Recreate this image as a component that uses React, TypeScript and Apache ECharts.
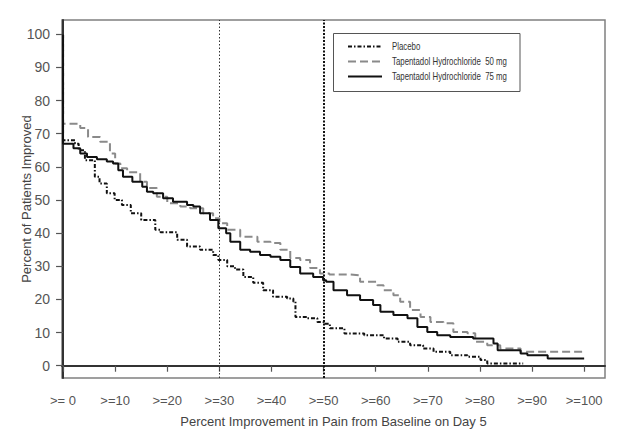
import React, { useEffect, useRef } from "react";
import * as echarts from "echarts";

const seriesNames = [
  "Placebo",
  "Tapentadol Hydrochloride  50 mg",
  "Tapentadol Hydrochloride  75 mg",
];

const placebo: [number, number][] = [
  [0, 100], [0, 68], [2.3, 67], [3.0, 65], [4.2, 62], [6.1, 57], [7.0, 55], [8.4, 52],
  [9.9, 50], [11.3, 48.5], [13.0, 46], [15.0, 44], [17.7, 41], [18.7, 40.3], [21.9, 38],
  [23.8, 36], [26.3, 35], [28.8, 33.4], [29.8, 31.9], [31.5, 30], [33.0, 29], [34.6, 26.8],
  [36.5, 25], [38.4, 22.8], [40.3, 20.8], [43.0, 20.3], [44.2, 19.3], [44.6, 14.7],
  [46.8, 14.3], [48.8, 13.2], [50.0, 12.7], [51.2, 11.3], [54.0, 9.7], [57.8, 9.2],
  [61.6, 8.2], [64.2, 7.2], [66.6, 6.2], [69.1, 5.2], [71.1, 4.2], [74.3, 3.2],
  [77.6, 2.7], [80.1, 1.7], [81.4, 0.7], [88.3, 0.7],
];

const mg50: [number, number][] = [
  [0, 100], [0, 73], [2.3, 73], [3.3, 71.7], [4.8, 69], [7.1, 67.6], [9.0, 64], [10.0, 61],
  [11.0, 59.6], [12.3, 58.4], [14.8, 55.5], [16.1, 53.6], [18.0, 51], [20.0, 49],
  [22.5, 48], [24.4, 47.5], [26.9, 46], [28.8, 44.5], [30.0, 43], [31.5, 41], [34.0, 38.9],
  [37.3, 37.4], [39.8, 37], [41.7, 35], [43.6, 32.5], [45.5, 31.9], [47.4, 29.5],
  [49.3, 27.8], [51.1, 27.5], [55.1, 27.3], [57.0, 25.3], [60.3, 24.3], [61.5, 22.8],
  [63.4, 21.3], [64.7, 19.3], [66.6, 16.8], [68.6, 14.7], [70.5, 13.2], [73.0, 12.8],
  [74.9, 10.2], [77.6, 9.8], [79.1, 7.2], [81.4, 6.2], [83.9, 5.2], [87.8, 4.2], [100, 4.2],
];

const mg75: [number, number][] = [
  [0, 100], [0, 67], [2.0, 65.6], [3.3, 64], [4.6, 63], [6.5, 62.3], [8.4, 61.6], [9.6, 61],
  [10.6, 59], [11.5, 57], [13.3, 55.5], [15.2, 54], [16.1, 52.5], [17.3, 52], [19.2, 50.5],
  [21.1, 49.5], [23.8, 48.5], [25.0, 48], [26.3, 46], [28.2, 44], [29.8, 41.5], [31.3, 40],
  [32.1, 37.4], [34.0, 35], [35.9, 34.4], [37.8, 33.4], [39.8, 32.9], [41.7, 31.9],
  [43.6, 29.8], [45.5, 27.8], [48.0, 26.8], [49.9, 25.8], [50.5, 25.3], [51.9, 22.8],
  [54.5, 21.3], [57.0, 19.8], [59.5, 18.3], [60.9, 16.3], [63.4, 15.3], [66.1, 14.3],
  [68.0, 11.7], [69.9, 10.2], [71.8, 9.2], [74.3, 8.7], [78.7, 8.2], [82.6, 6.7],
  [83.4, 4.7], [87.8, 3.7], [89.1, 3.2], [93.0, 2.2], [100, 2.2],
];

const xTicks = [0, 10, 20, 30, 40, 50, 60, 70, 80, 90, 100];
const xTickLabels = [">= 0", ">=10", ">=20", ">=30", ">=40", ">=50", ">=60", ">=70", ">=80", ">=90", ">=100"];
const yTicks = [0, 10, 20, 30, 40, 50, 60, 70, 80, 90, 100];
const referenceLines = [30, 50];

const xAxisName = "Percent Improvement in Pain from Baseline on Day 5";
const yAxisName = "Percent of Patients Improved";

const lineStyles = [
  { color: "#111111", width: 2, dash: [4, 2, 1.5, 2] as number[] | null },
  { color: "#8a8a8a", width: 2, dash: [8, 4] as number[] | null },
  { color: "#111111", width: 2, dash: null as number[] | null },
];

export default function App() {
  const ref = useRef<HTMLDivElement>(null);
  useEffect(() => {
    document.body.style.margin = "0";
    if (!ref.current) return;
    const chart = echarts.init(ref.current, null, { renderer: "svg" });
    const font = "'Liberation Sans', Arial, sans-serif";

    const legendTop = 46.5;
    const legendStep = 15;
    const legendChildren: any[] = [
      {
        type: "rect",
        shape: { x: 333.5, y: 33.5, width: 186.5, height: 58 },
        style: { fill: "#ffffff", stroke: "#555555", lineWidth: 1 },
      },
    ];
    seriesNames.forEach((name, i) => {
      const y = legendTop + i * legendStep;
      const ls = lineStyles[i];
      legendChildren.push({
        type: "line",
        shape: { x1: 348, y1: y, x2: 382, y2: y },
        style: { stroke: ls.color, lineWidth: ls.width, lineDash: ls.dash || undefined },
      });
      legendChildren.push({
        type: "text",
        x: 392,
        y: y,
        scaleX: 0.785,
        style: {
          text: name,
          x: 0,
          y: 0,
          fontSize: 10,
          fontFamily: font,
          fill: "#333333",
          verticalAlign: "middle",
          align: "left",
        },
      });
    });

    const mkSeries = (i: number, data: [number, number][], extra: any = {}) => ({
      name: seriesNames[i],
      type: "line",
      step: "end",
      symbol: "none",
      data,
      z: 3 + i,
      lineStyle: {
        color: lineStyles[i].color,
        width: lineStyles[i].width,
        type: lineStyles[i].dash || "solid",
      },
      itemStyle: { color: lineStyles[i].color },
      ...extra,
    });

    chart.setOption({
      animation: false,
      backgroundColor: "#ffffff",
      grid: {
        left: 62,
        right: 19,
        top: 20,
        bottom: 65,
        show: true,
        borderColor: "#808080",
        borderWidth: 1.5,
      },
      graphic: [{ type: "group", z: 100, children: legendChildren }],
      xAxis: {
        type: "value",
        min: -0.2,
        max: 104,
        name: xAxisName,
        nameLocation: "middle",
        nameGap: 37,
        nameMoveOverlap: false,
        nameTextStyle: { fontFamily: font, fontSize: 13, color: "#444" },
        axisLine: { show: true, lineStyle: { color: "#333", width: 2 } },
        axisTick: { show: true, customValues: xTicks, length: 6, lineStyle: { color: "#555", width: 1.2 } },
        axisLabel: {
          customValues: xTicks,
          margin: 16,
          fontFamily: font,
          fontSize: 13,
          color: "#555",
          formatter: (v: number) => {
            const i = xTicks.indexOf(Math.round(v));
            return i >= 0 ? xTickLabels[i] : "";
          },
        },
        splitLine: { show: false },
      },
      yAxis: {
        type: "value",
        min: -3.7,
        max: 104.3,
        name: yAxisName,
        nameLocation: "middle",
        nameGap: 29,
        nameMoveOverlap: false,
        nameTextStyle: { fontFamily: font, fontSize: 13, color: "#444" },
        axisLine: { show: true, lineStyle: { color: "#333", width: 2 } },
        axisTick: { show: true, customValues: yTicks, length: 7, lineStyle: { color: "#555", width: 1.2 } },
        axisLabel: {
          customValues: yTicks,
          margin: 12,
          fontFamily: font,
          fontSize: 14,
          color: "#555",
        },
        splitLine: { show: false },
      },
      series: [
        mkSeries(0, placebo, {
          markLine: {
            silent: true,
            symbol: ["none", "none"],
            label: { show: false },
            data: [
              { xAxis: referenceLines[0], lineStyle: { color: "#333", width: 1, type: [1.5, 2] } },
              { xAxis: referenceLines[1], lineStyle: { color: "#111", width: 2, type: [2, 1.5] } },
            ],
          },
        }),
        mkSeries(1, mg50),
        mkSeries(2, mg75),
      ],
    });
    return () => chart.dispose();
  }, []);
  return <div ref={ref} style={{ width: 624, height: 443 }} />;
}
